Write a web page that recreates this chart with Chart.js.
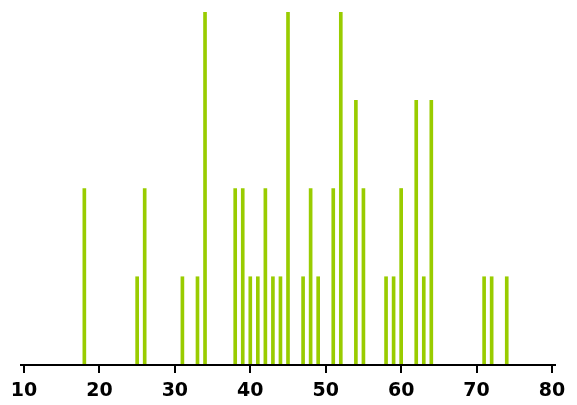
<!DOCTYPE html>
<html>
<head>
<meta charset="utf-8">
<script src="https://cdn.jsdelivr.net/npm/chart.js@4"></script>
<style>
  html, body { margin: 0; padding: 0; background: #fff; }
  #wrap { width: 577px; height: 405px; }
</style>
</head>
<body>
<div id="wrap"><canvas id="myChart"></canvas></div>
<script>
// values
const positions = [18, 25, 26, 31, 33, 34, 38, 39, 40, 41, 42, 43, 44, 45, 47, 48, 49, 51, 52, 54, 55, 58, 59, 60, 62, 63, 64, 71, 72, 74];
const counts    = [2, 1, 2, 1, 1, 4, 2, 2, 1, 1, 2, 1, 1, 4, 1, 2, 1, 2, 4, 3, 2, 1, 1, 2, 3, 1, 3, 1, 1, 1];
const xMin = 10, xMax = 80, xStep = 10;

const points = positions.map((p, i) => ({ x: p, y: counts[i] }));

// tick marks under the axis, plus an axis line a bit wider than the plot
const tickMarks = {
  id: 'tickMarks',
  afterDraw(chart) {
    const x = chart.scales.x;
    const c = chart.ctx;
    const y0 = chart.chartArea.bottom;
    c.save();
    c.fillStyle = '#000';
    for (let v = xMin; v <= xMax; v += xStep) {
      const px = Math.round(x.getPixelForValue(v));
      c.fillRect(px - 1, y0, 2, 8);
    }
    c.fillRect(x.left - 4, y0 - 1, x.right - x.left + 8, 2);
    c.restore();
  }
};

const ctx = document.getElementById('myChart');
new Chart(ctx, {
  type: 'bar',
  data: {
    datasets: [{
      data: points,
      backgroundColor: "#99cc00",
      barThickness: 3
    }]
  },
  options: {
    responsive: true,
    maintainAspectRatio: false,
    animation: false,
    layout: {
      padding: { top: 12, left: 24, right: 25, bottom: -5 }
    },
    plugins: {
      legend: { display: false },
      tooltip: { enabled: false }
    },
    scales: {
      x: {
        type: 'linear',
        min: xMin,
        max: xMax,
        offset: false,
        grid: {
          offset: false,
          drawOnChartArea: false,
          drawTicks: true,
          tickLength: 8,
          color: '#000',
          lineWidth: 2
        },
        border: { display: true, color: '#000', width: 2 },
        ticks: {
          stepSize: xStep,
          color: '#000',
          padding: 9,
          maxRotation: 0,
          font: { family: 'DejaVu Sans', size: 19, weight: 'bold', lineHeight: 1 }
        }
      },
      y: {
        display: false,
        min: 0,
        max: 4
      }
    }
  },
  plugins: [tickMarks]
});
</script>
</body>
</html>
